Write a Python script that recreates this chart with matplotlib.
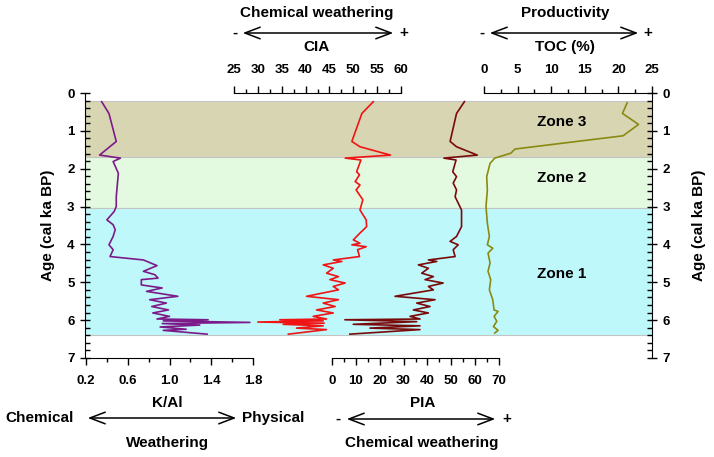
import matplotlib
matplotlib.use("Agg")
import matplotlib.pyplot as plt
from matplotlib.patches import FancyArrowPatch
from matplotlib.ticker import MultipleLocator, FixedLocator

plt.rcParams["font.family"] = ["Liberation Sans", "DejaVu Sans"]
plt.rcParams["font.weight"] = "bold"

# K/Al (purple)
age_kal = [0.23, 0.54, 1.28, 1.64, 1.72, 1.81, 2.12, 2.74, 3.0, 3.13, 3.35, 3.48, 3.61,
           3.79, 4.01, 4.14, 4.32, 4.41, 4.56, 4.71, 4.8, 4.89, 4.93, 5.07, 5.15, 5.24,
           5.37, 5.46, 5.55, 5.64, 5.73, 5.81, 5.9, 5.97, 5.99, 6.02, 6.06, 6.09, 6.13,
           6.18, 6.24, 6.27, 6.37]
kal = [0.35, 0.42, 0.49, 0.33, 0.53, 0.46, 0.51, 0.49, 0.49, 0.47, 0.40, 0.46, 0.48,
       0.46, 0.42, 0.46, 0.43, 0.75, 0.88, 0.75, 0.86, 0.89, 0.73, 0.73, 0.93, 0.78,
       1.08, 0.81, 0.97, 0.83, 0.99, 0.84, 1.00, 0.88, 1.37, 0.94, 1.77, 0.93, 1.29,
       0.91, 1.16, 0.94, 1.36]

# CIA (red)
age_cia = [0.23, 0.54, 1.28, 1.42, 1.64, 1.72, 1.77, 2.08, 2.16, 2.34, 2.43, 2.56, 2.82,
           3.09, 3.35, 3.53, 3.70, 3.88, 3.97, 4.01, 4.06, 4.14, 4.32, 4.41, 4.45, 4.54,
           4.63, 4.76, 4.85, 4.93, 5.02, 5.11, 5.2, 5.37, 5.46, 5.55, 5.64, 5.73, 5.81,
           5.9, 5.97, 5.99, 6.02, 6.05, 6.08, 6.11, 6.15, 6.21, 6.25, 6.37]
cia = [54.2, 51.8, 49.7, 51.4, 57.8, 48.3, 51.6, 50.7, 51.3, 50.4, 51.4, 50.6, 52.0,
       51.4, 52.7, 52.8, 51.4, 50.0, 51.4, 49.7, 52.7, 50.9, 51.3, 45.8, 47.6, 43.7,
       45.8, 44.4, 46.9, 45.1, 48.3, 45.8, 46.9, 40.2, 46.9, 43.7, 46.2, 42.3, 45.8,
       41.6, 44.4, 34.6, 43.7, 30.0, 43.9, 35.3, 43.7, 38.1, 44.4, 36.4]

# PIA (dark red)
age_pia = [0.23, 0.54, 1.28, 1.42, 1.64, 1.72, 1.77, 2.08, 2.21, 2.38, 2.56, 2.74, 3.09,
           3.53, 3.79, 3.92, 4.01, 4.14, 4.32, 4.41, 4.45, 4.54, 4.63, 4.76, 4.85, 4.93,
           5.02, 5.11, 5.2, 5.37, 5.46, 5.55, 5.64, 5.73, 5.81, 5.9, 5.97, 5.99, 6.04,
           6.11, 6.15, 6.21, 6.25, 6.37]
pia = [55.5, 52.2, 49.5, 52.2, 60.9, 46.9, 52.0, 50.6, 52.2, 50.8, 52.2, 51.6, 54.3,
       54.3, 52.2, 49.5, 52.9, 50.8, 51.6, 40.4, 43.9, 36.2, 40.4, 37.6, 42.5, 39.0,
       46.6, 40.4, 42.5, 26.4, 43.2, 35.5, 41.1, 34.1, 40.4, 32.7, 36.9, 5.4, 35.5,
       8.9, 36.9, 15.9, 36.9, 7.5]

# TOC (olive)
age_toc = [0.26, 0.54, 0.83, 1.13, 1.48, 1.59, 1.72, 1.86, 2.21, 2.56, 3.0, 3.44, 3.79,
           4.01, 4.10, 4.23, 4.49, 4.71, 4.93, 5.2, 5.46, 5.73, 5.77, 5.90, 6.03, 6.17,
           6.27, 6.34]
toc = [21.3, 20.6, 23.0, 20.7, 4.6, 4.0, 1.6, 0.9, 0.4, 0.5, 0.3, 0.5, 0.8,
       0.5, 1.3, 0.6, 0.9, 0.6, 1.0, 0.8, 1.3, 1.5, 2.1, 1.5, 1.9, 1.4, 2.1, 1.6]

kal_ticks = [0.2, 0.6, 1.0, 1.4, 1.8]

zones = [("Zone 3", 0.2, 1.7, "#d8d5b3", 0.77),
         ("Zone 2", 1.7, 3.05, "#e3fae0", 2.24),
         ("Zone 1", 3.05, 6.4, "#bef8fb", 4.77)]

W, H = 714, 457


def fx(x):
    return x / W


def fy(y):
    return 1 - y / H


Y0, Y1 = 93, 358  # pixel rows for age 0 and 7

fig = plt.figure(figsize=(W / 100, H / 100), dpi=100)

main = fig.add_axes([fx(85), fy(Y1), fx(652 - 85), (Y1 - Y0) / H])
main.set_xlim(0, 1)
main.set_ylim(7, 0)
for z, a, b, c, _ in zones:
    main.axhspan(a, b, facecolor=c, edgecolor="#c4c4c4", lw=0.8)
for s in ["top", "bottom"]:
    main.spines[s].set_visible(False)
main.set_xticks([])
main.yaxis.set_ticks_position("both")
main.yaxis.set_major_locator(MultipleLocator(1))
main.yaxis.set_minor_locator(MultipleLocator(0.2))
main.tick_params(axis="y", which="major", direction="inout", length=7, width=1,
                 labelsize=9.5, labelright=True, pad=4)
main.tick_params(axis="y", which="minor", direction="in", length=3.5, width=1)
for z, a, b, c, ymid in zones:
    main.text((562 - 85) / (652 - 85), ymid, z, ha="center", va="center",
              fontsize=11, fontweight="bold")

fig.text(fx(48), fy(225), "Age (cal ka BP)", rotation=90, ha="center", va="center",
         fontsize=11, fontweight="bold")
fig.text(fx(699), fy(225), "Age (cal ka BP)", rotation=90, ha="center", va="center",
         fontsize=11, fontweight="bold")


def sub_axes(x0, x1, xlim, side, major, minor, color, xs, ys):
    ax = fig.add_axes([fx(x0), fy(Y1), fx(x1 - x0), (Y1 - Y0) / H])
    ax.patch.set_visible(False)
    ax.set_xlim(*xlim)
    ax.set_ylim(7, 0)
    ax.set_yticks([])
    for s in ["left", "right", "top", "bottom"]:
        ax.spines[s].set_visible(s == side)
    ax.xaxis.set_ticks_position(side)
    ax.xaxis.set_major_locator(major)
    ax.xaxis.set_minor_locator(MultipleLocator(minor))
    ax.tick_params(axis="x", which="major", direction="out", length=5, width=1,
                   labelsize=9.5, pad=7)
    ax.tick_params(axis="x", which="minor", direction="out", length=3, width=1)
    ax.plot(xs, ys, color=color, lw=1.2, clip_on=False)
    return ax


ax_k = sub_axes(86, 253, (0.2, 1.8), "bottom", FixedLocator(kal_ticks), 0.2,
                "#7d1a8a", kal, age_kal)
ax_k.xaxis.set_major_formatter(lambda v, p: f"{v:.1f}")
sub_axes(234, 401, (25, 60), "top", MultipleLocator(5), 2.5, "#f01414", cia, age_cia)
sub_axes(332, 499, (0, 70), "bottom", MultipleLocator(10), 5, "#7a0a0a", pia, age_pia)
sub_axes(484, 652, (0, 25), "top", MultipleLocator(5), 2.5, "#8a8a12", toc, age_toc)


def arrow(x0, x1, y):
    fig.add_artist(FancyArrowPatch((fx(x0), fy(y)), (fx(x1), fy(y)),
                                   transform=fig.transFigure,
                                   arrowstyle="<->,head_length=1.0,head_width=0.38",
                                   mutation_scale=11, lw=1.1, color="black"))


def label(x, y, s, ha="center", size=11):
    fig.text(fx(x), fy(y), s, ha=ha, va="center", fontsize=size, fontweight="bold")


# top annotations
label(317, 13, "Chemical weathering")
arrow(240, 396, 33)
label(235, 33, "-")
label(404, 33, "+")
label(317, 47, "CIA")

label(565, 13, "Productivity")
arrow(487, 641, 33)
label(482, 33, "-")
label(648, 33, "+")
label(565, 47, "TOC (%)")

# bottom annotations
label(167, 403, "K/Al")
arrow(85, 239, 418)
label(40, 418, "Chemical")
label(242, 418, "Physical", ha="left")
label(167, 443, "Weathering")

label(423, 403, "PIA")
arrow(344, 498, 419)
label(338, 419, "-")
label(507, 419, "+")
label(422, 443, "Chemical weathering")

fig.savefig("out.png", dpi=100)
